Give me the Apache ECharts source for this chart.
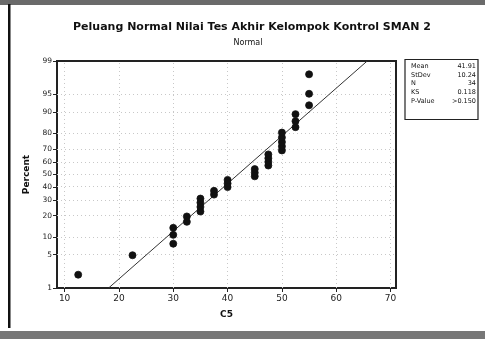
<!DOCTYPE html>
<html>
<head>
<meta charset="utf-8">
<script src="https://cdn.jsdelivr.net/npm/echarts@6/dist/echarts.min.js"></script>
<style>
  html, body { margin: 0; padding: 0; background: #fff; }
  #chart { width: 485px; height: 339px; }
</style>
</head>
<body>
<div id="chart"></div>
<script>
// data (C5 scores and their plotted percent)
const scoreValues = [12.5, 22.5, 30, 30, 30, 32.5, 32.5, 35, 35, 35, 35, 37.5, 37.5,
  40, 40, 40, 45, 45, 45, 47.5, 47.5, 47.5, 47.5, 50, 50, 50, 50, 50,
  52.5, 52.5, 52.5, 55, 55, 55]
const percentValues = [2.0, 4.9, 7.8, 10.8, 13.7, 16.6, 19.5, 22.4, 25.3, 28.2, 31.1, 34.0, 36.9,
  39.8, 42.7, 45.6, 48.5, 51.5, 54.4, 57.3, 60.2, 63.1, 66.0, 68.9, 71.8, 74.7, 77.6, 80.5,
  83.4, 86.3, 89.2, 92.2, 95.1, 98.0]
const fitScores = [18.1, 65.7]
const fitPercents = [1, 99]
const xTicks = [10, 20, 30, 40, 50, 60, 70]
const percentTicks = [1, 5, 10, 20, 30, 40, 50, 60, 70, 80, 90, 95, 99]
const statLabels = ['Mean', 'StDev', 'N', 'KS', 'P-Value']
const statValues = ['41.91', '10.24', '34', '0.118', '>0.150']

// inverse normal cdf (Acklam) -> used as the probability scale
function probit(pct) {
  const p = pct / 100
  const a = [-39.69683028665376, 220.9460984245205, -275.9285104469687, 138.3577518672690, -30.66479806614716, 2.506628277459239]
  const b = [-54.47609879822406, 161.5858368580409, -155.6989798598866, 66.80131188771972, -13.28068115201913]
  const c = [-0.007784894002430293, -0.3223964580411365, -2.400758277161838, -2.549732935542006, 4.374664141464968, 2.938163982698783]
  const d = [0.007784695709041462, 0.3224671290700398, 2.445134137142996, 3.754408181286637]
  const plow = 0.02425
  let q, r
  if (p < plow) {
    q = Math.sqrt(-2 * Math.log(p))
    return (((((c[0] * q + c[1]) * q + c[2]) * q + c[3]) * q + c[4]) * q + c[5]) /
      ((((d[0] * q + d[1]) * q + d[2]) * q + d[3]) * q + 1)
  }
  if (p <= 1 - plow) {
    q = p - 0.5
    r = q * q
    return (((((a[0] * r + a[1]) * r + a[2]) * r + a[3]) * r + a[4]) * r + a[5]) * q /
      (((((b[0] * r + b[1]) * r + b[2]) * r + b[3]) * r + b[4]) * r + 1)
  }
  q = Math.sqrt(-2 * Math.log(1 - p))
  return -(((((c[0] * q + c[1]) * q + c[2]) * q + c[3]) * q + c[4]) * q + c[5]) /
    ((((d[0] * q + d[1]) * q + d[2]) * q + d[3]) * q + 1)
}

const yTickZ = percentTicks.map(probit)
const points = scoreValues.map((v, i) => [v, probit(percentValues[i])])
const fitData = fitScores.map((v, i) => [v, probit(fitPercents[i])])

const font = 'DejaVu Sans'
const chart = echarts.init(document.getElementById('chart'))

const statTexts = []
statLabels.forEach((lab, i) => {
  statTexts.push({
    type: 'text', left: 411, top: 63 + i * 8.6,
    style: { text: lab, fill: '#111', font: '6.5px "DejaVu Sans"' }
  })
  statTexts.push({
    type: 'text', right: 9, top: 63 + i * 8.6,
    style: { text: statValues[i], fill: '#111', font: '6.5px "DejaVu Sans"', align: 'right' }
  })
})

chart.setOption({
  animation: false,
  backgroundColor: '#fff',
  title: [
    {
      text: 'Peluang Normal Nilai Tes Akhir Kelompok Kontrol SMAN 2',
      left: 247, top: 17, textAlign: 'center',
      textStyle: { fontFamily: font, fontWeight: 'bold', fontSize: 11, color: '#111' }
    },
    {
      text: 'Normal',
      left: 243, top: 34, textAlign: 'center',
      textStyle: { fontFamily: font, fontWeight: 'normal', fontSize: 8, color: '#111' }
    }
  ],
  grid: {
    left: 57, right: 89, top: 61, bottom: 51,
    show: true, borderColor: '#222', borderWidth: 2, backgroundColor: '#fff'
  },
  xAxis: {
    type: 'value', min: 8.6, max: 71,
    name: 'C5', nameLocation: 'middle', nameGap: 22,
    nameTextStyle: { fontFamily: font, fontWeight: 'bold', fontSize: 9, color: '#111' },
    axisLine: { show: true, onZero: false, lineStyle: { color: '#222', width: 2 } },
    axisTick: { show: true, length: 4, customValues: xTicks, lineStyle: { color: '#222' } },
    axisLabel: { customValues: xTicks, fontFamily: font, fontSize: 9, color: '#222', margin: 6 },
    splitLine: { show: false }
  },
  yAxis: {
    type: 'value', min: probit(1), max: probit(99),
    name: 'Percent', nameLocation: 'middle', nameGap: 20, nameRotate: 90,
    nameTextStyle: { fontFamily: font, fontWeight: 'bold', fontSize: 9, color: '#111' },
    axisLine: { show: true, onZero: false, lineStyle: { color: '#222', width: 2 } },
    axisTick: { show: true, length: 4, customValues: yTickZ, lineStyle: { color: '#222' } },
    axisLabel: {
      customValues: yTickZ, fontFamily: font, fontSize: 7.5, color: '#222', margin: 5,
      formatter: (val) => {
        const i = yTickZ.findIndex((z) => Math.abs(z - val) < 1e-6)
        return i >= 0 ? String(percentTicks[i]) : ''
      }
    },
    splitLine: { show: false }
  },
  graphic: [
    { type: 'rect', shape: { x: 0, y: 0, width: 485, height: 5 }, style: { fill: '#6a6a6a' } },
    { type: 'rect', shape: { x: 8, y: 4, width: 2.5, height: 324 }, style: { fill: '#111' } },
    { type: 'rect', shape: { x: 0, y: 331, width: 485, height: 8 }, style: { fill: '#777' } },
    { type: 'rect', shape: { x: 405, y: 59.5, width: 73, height: 60 }, style: { fill: '#fff', stroke: '#222', lineWidth: 1.2 } },
    ...statTexts
  ],
  series: [
    {
      type: 'line',
      data: fitData,
      symbol: 'none',
      z: 2,
      lineStyle: { color: '#333', width: 1 },
      markLine: {
        silent: true,
        symbol: 'none',
        z: 1,
        label: { show: false },
        lineStyle: { color: '#c8c8c8', type: [1, 3], width: 1 },
        data: [
          ...xTicks.map((v) => ({ xAxis: v })),
          ...yTickZ.slice(1, -1).map((z) => ({ yAxis: z }))
        ]
      }
    },
    {
      type: 'scatter',
      data: points,
      symbol: 'circle',
      symbolSize: 7,
      z: 5,
      itemStyle: { color: '#111', opacity: 1, borderColor: '#111', borderWidth: 0.8 }
    }
  ]
})
</script>
</body>
</html>
